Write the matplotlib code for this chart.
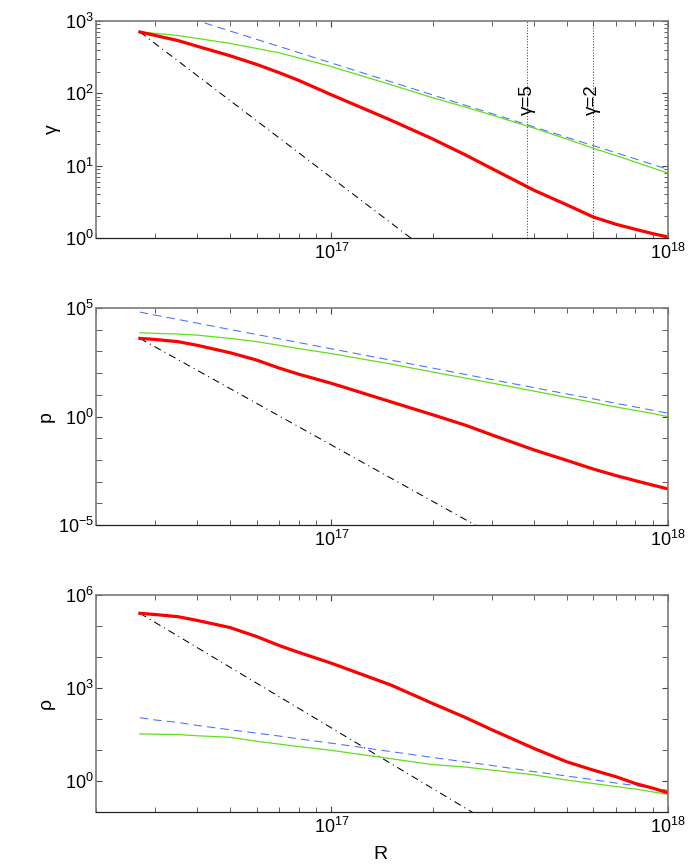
import numpy as np
import matplotlib
matplotlib.use("Agg")
import matplotlib.pyplot as plt
from matplotlib import ticker

plt.rcParams['font.family'] = ['Liberation Sans', 'DejaVu Sans']
plt.rcParams['mathtext.default'] = 'regular'

# Radius grid (cm) the curves were read at
R = [2.7e16, 3e16, 3.5e16, 4e16, 5e16, 6e16, 7e16, 8e16, 1e17, 1.5e17,
     2e17, 2.5e17, 3e17, 4e17, 5e17, 6e17, 7e17, 8e17, 9e17, 1e18]

# Lorentz factor
gamma_red = [705, 631, 537, 447, 331, 251, 193, 151, 95.5, 42.7,
             23.4, 14.1, 9.1, 4.57, 2.88, 1.95, 1.55, 1.32, 1.15, 1.035]
gamma_green = [705, 676, 631, 575, 490, 417, 363, 309, 234, 132,
               87, 64.6, 50, 33, 23.4, 17.4, 13.8, 11.2, 9.3, 7.9]
gamma_blue = [1803, 1545, 1230, 1012, 728, 557, 445, 366, 263, 145,
              95, 68.4, 52.4, 34.3, 24.7, 18.9, 15.1, 12.4, 10.4, 8.9]

# pressure
p_red = [3981, 3548, 2818, 1905, 871, 398, 170, 89, 33.9, 4.79,
         1.2, 0.40, 0.141, 0.0288, 0.00955, 0.0038, 0.0019, 0.0011, 6.9e-4, 4.6e-4]
p_green = [7244, 6761, 6310, 5623, 3981, 2818, 1905, 1349, 794, 263,
           112, 58.9, 34.7, 14.8, 7.6, 4.4, 2.75, 1.9, 1.38, 0.98]
p_blue = [64600, 46800, 29800, 20000, 10200, 6030, 3800, 2570, 1320, 398,
          170, 87, 50, 21.4, 11, 6.5, 4.07, 2.75, 1.94, 1.41]

# density
rho_red = [257000, 234000, 200000, 151000, 89100, 45700, 23400, 14100, 6310, 1259,
           316, 112, 44.7, 11.2, 4.17, 2.24, 1.38, 0.83, 0.59, 0.417]
rho_green = [33.1, 32.4, 31.6, 28.8, 25.7, 19.1, 15.5, 12.9, 9.77, 5.25,
             3.39, 2.82, 2.24, 1.58, 1.07, 0.83, 0.66, 0.55, 0.447, 0.37]
rho_blue = [110, 93, 77.6, 62, 45, 35, 28.2, 22.9, 16.6, 8.9,
            5.75, 4.12, 3.16, 2.0, 1.45, 1.1, 0.86, 0.71, 0.59, 0.5]

# dash-dot reference power laws (end points)
R_ref = [2.7e16, 3e17]
gamma_ref = [705, 0.14]
p_ref = [3981, 3.7e-6]
rho_ref = [257000, 0.041]

# gamma markers
R_marks = [3.82e17, 5.97e17]
gamma_marks = [5, 2]


def style_axes(ax, ylim, major, minor=None):
    ax.set_xscale('log')
    ax.set_yscale('log')
    ax.set_xlim(2e16, 1e18)
    ax.set_ylim(*ylim)
    ax.xaxis.set_major_locator(ticker.FixedLocator([1e17, 1e18]))
    ax.xaxis.set_minor_locator(ticker.LogLocator(base=10, subs=np.arange(2, 10), numticks=20))
    ax.xaxis.set_minor_formatter(ticker.NullFormatter())
    ax.yaxis.set_major_locator(ticker.FixedLocator(major))
    ax.yaxis.set_major_formatter(ticker.LogFormatterSciNotation())
    if minor is None:
        ax.yaxis.set_minor_locator(ticker.LogLocator(base=10, subs=np.arange(2, 10), numticks=20))
        ylen = 2.8
    else:
        ax.yaxis.set_minor_locator(ticker.FixedLocator(minor))
        ylen = 4
    ax.yaxis.set_minor_formatter(ticker.NullFormatter())
    ax.tick_params(which='both', direction='in', top=True, right=True, labelsize=13, color='#444444')
    ax.tick_params(axis='x', which='major', length=4.5, pad=3.5)
    ax.tick_params(axis='x', which='minor', length=3.5)
    ax.tick_params(axis='y', which='major', length=4.5, pad=1.5)
    ax.tick_params(axis='y', which='minor', length=ylen)
    for side in ['left', 'right', 'top']:
        ax.spines[side].set_color('#7a7a7a')
        ax.spines[side].set_linewidth(1.2)
    ax.spines['bottom'].set_color('#222222')
    ax.spines['bottom'].set_linewidth(0.9)


def draw(ax, red, green, blue, ref):
    ax.plot(R_ref, ref, color='black', lw=0.75, dashes=(7, 4, 1, 4))
    ax.plot(R, blue, color='#4a6cff', lw=0.75, dashes=(8, 5))
    ax.plot(R, green, color='#5fe01c', lw=0.9)
    ax.plot(R, red, color='#ff0000', lw=2.3)


fig = plt.figure(figsize=(6.92, 8.65), dpi=100)
left, width, height = 96 / 692, 572 / 692, 217 / 865
ax1 = fig.add_axes([left, 1 - 238 / 865, width, height])
ax2 = fig.add_axes([left, 1 - 525 / 865, width, height])
ax3 = fig.add_axes([left, 1 - 812 / 865, width, height])

# gamma panel
draw(ax1, gamma_red, gamma_green, gamma_blue, gamma_ref)
for rm, gm in zip(R_marks, gamma_marks):
    ax1.axvline(rm, color='#444444', lw=0.75, ls=':')
    ax1.text(rm, 82, '\u03b3=%d' % gm, rotation=90, ha='center', va='center', fontsize=13.5)
style_axes(ax1, (1, 1e3), [1, 10, 100, 1000])
ax1.set_ylabel('\u03b3', fontsize=14)
ax1.yaxis.set_label_coords(-0.061, 0.5)

# pressure panel
draw(ax2, p_red, p_green, p_blue, p_ref)
style_axes(ax2, (1e-5, 1e5), [1e-5, 1, 1e5], [10.0 ** k for k in range(-4, 5)])
ax2.set_ylabel('p', fontsize=14)
ax2.yaxis.set_label_coords(-0.073, 0.5)

# density panel
draw(ax3, rho_red, rho_green, rho_blue, rho_ref)
style_axes(ax3, (0.1, 1e6), [1, 1e3, 1e6], [10.0 ** k for k in range(-1, 7)])
ax3.set_ylabel('\u03c1', fontsize=14)
ax3.yaxis.set_label_coords(-0.072, 0.5)
ax3.set_xlabel('R', fontsize=14)
ax3.xaxis.set_label_coords(0.497, -0.155)

fig.savefig('out.png', dpi=100)
